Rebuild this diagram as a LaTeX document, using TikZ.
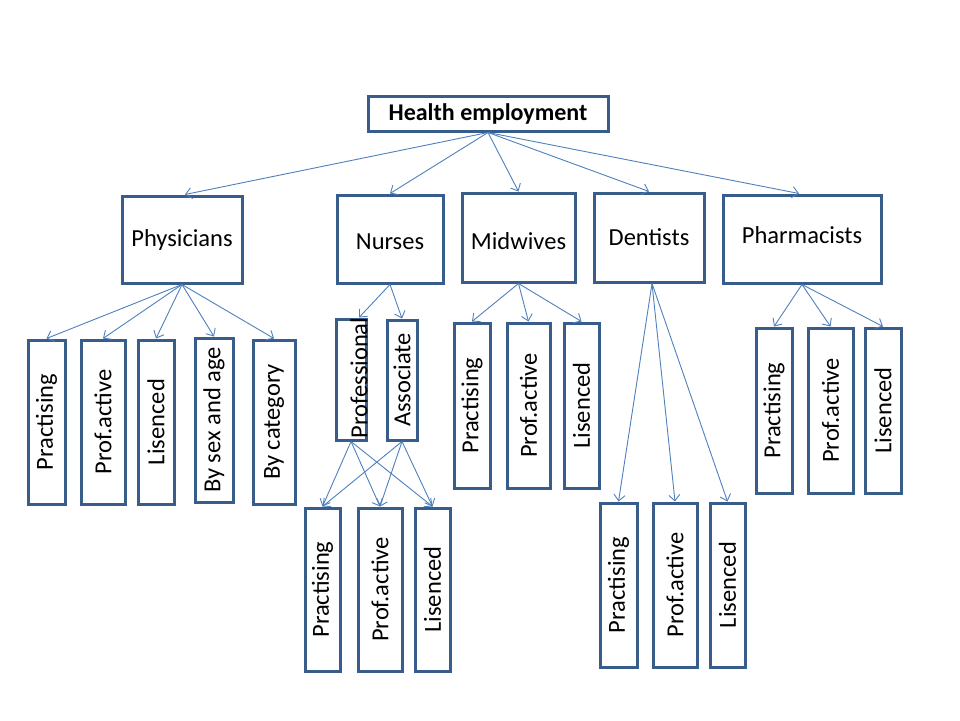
\documentclass[tikz,border=0pt]{standalone}
\usepackage{fontspec}
\setmainfont{Carlito}
\usepackage{graphicx}
\usetikzlibrary{arrows.meta,calc}
\definecolor{boxblue}{HTML}{385D8A}
\definecolor{arrblue}{HTML}{4F81BD}
\newcommand{\shiftedtext}[2]{\raisebox{#1}[\height][\depth]{#2}}
\begin{document}
\begin{tikzpicture}[x=1pt,y=-1pt,
  box/.style={draw=boxblue, line width=3pt, fill=white, inner sep=0pt, font=\fontsize{24.5}{28}\selectfont},
  top/.style={box, font=\bfseries\fontsize{24}{28}\selectfont},
  arr/.style={draw=arrblue, line width=0.9pt, -{Straight Barb[length=6pt,width=11pt]}}]
\useasboundingbox (0,0) rectangle (960,720);
\fill[white] (0,0) rectangle (960,720);
% top
\node[top, minimum width=240pt, minimum height=35pt] (health) at (488,113.5) {Health employment};
% level 1
\node[box, minimum width=120pt, minimum height=87pt] (phys) at (182,239.5) {Physicians};
\node[box, minimum width=106pt, minimum height=88pt] (nurs) at (390,239) {\shiftedtext{-3pt}{Nurses}};
\node[box, minimum width=113pt, minimum height=89pt] (midw) at (518.5,237.5) {\shiftedtext{-4pt}{Midwives}};
\node[box, minimum width=110pt, minimum height=89pt] (dent) at (649,237.5) {Dentists};
\node[box, minimum width=158pt, minimum height=88pt] (phar) at (802,239) {\shiftedtext{4pt}{Pharmacists}};
% physicians children
\node[box, minimum width=37pt, minimum height=164pt] (pp1) at (46.5,422) {\rotatebox{90}{Practising}};
\node[box, minimum width=44pt, minimum height=164pt] (pp2) at (103,422) {\rotatebox{90}{Prof.active}};
\node[box, minimum width=36pt, minimum height=164pt] (pp3) at (156,422) {\rotatebox{90}{Lisenced}};
\node[box, minimum width=38pt, minimum height=164pt] (pp4) at (214,420) {\rotatebox{90}{By sex and age}};
\node[box, minimum width=42pt, minimum height=164pt] (pp5) at (274,422) {\rotatebox{90}{By category}};
% nurses children
\node[box, minimum width=30pt, minimum height=121pt] (prof) at (351,379.5) {};
\node[font=\fontsize{24.5}{28}\selectfont, inner sep=0pt] (proftext) at (359,378) {\rotatebox{90}{Professional}};
\node[box, minimum width=30pt, minimum height=120pt] (asso) at (402,380) {\rotatebox{90}{Associate}};
% nurses grandchildren
\node[box, minimum width=35pt, minimum height=163pt] (ng1) at (322.5,589.5) {\rotatebox{90}{Practising}};
\node[box, minimum width=44pt, minimum height=163pt] (ng2) at (380,589.5) {\rotatebox{90}{Prof.active}};
\node[box, minimum width=35pt, minimum height=163pt] (ng3) at (432.5,589.5) {\rotatebox{90}{Lisenced}};
% midwives children
\node[box, minimum width=36pt, minimum height=165pt] (mw1) at (472,405.5) {\rotatebox{90}{Practising}};
\node[box, minimum width=43pt, minimum height=165pt] (mw2) at (528.5,405.5) {\rotatebox{90}{Prof.active}};
\node[box, minimum width=35pt, minimum height=165pt] (mw3) at (581.5,405.5) {\rotatebox{90}{Lisenced}};
% dentists children
\node[box, minimum width=37pt, minimum height=164pt] (dn1) at (618.5,585) {\rotatebox{90}{Practising}};
\node[box, minimum width=44pt, minimum height=164pt] (dn2) at (675,585) {\rotatebox{90}{Prof.active}};
\node[box, minimum width=35pt, minimum height=164pt] (dn3) at (727.5,585) {\rotatebox{90}{Lisenced}};
% pharmacists children
\node[box, minimum width=36pt, minimum height=165pt] (ph1) at (774,410.5) {\rotatebox{90}{Practising}};
\node[box, minimum width=45pt, minimum height=165pt] (ph2) at (830.5,410.5) {\rotatebox{90}{Prof.active}};
\node[box, minimum width=36pt, minimum height=165pt] (ph3) at (883,410.5) {\rotatebox{90}{Lisenced}};
% arrows from top
\draw[arr] (health.south) -- ($(phys.north)+(3,0)$);
\draw[arr] (health.south) -- (nurs.north);
\draw[arr] (health.south) -- (midw.north);
\draw[arr] (health.south) -- (dent.north);
\draw[arr] (health.south) -- ($(phar.north)+(-3,0)$);
% physicians
\foreach \c in {pp1,pp2,pp3,pp4,pp5} \draw[arr] (phys.south) -- (\c.north);
% nurses
\draw[arr] (nurs.south) -- ($(prof.north)+(8,0)$);
\draw[arr] (nurs.south) -- (asso.north);
\foreach \c in {ng1,ng2,ng3} {
  \draw[arr] (prof.south) -- (\c.north);
  \draw[arr] (asso.south) -- (\c.north);
}
% midwives
\foreach \c in {mw1,mw2,mw3} \draw[arr] (midw.south) -- (\c.north);
% dentists
\foreach \c in {dn1,dn2,dn3} \draw[arr] ($(dent.south)+(3,0)$) -- (\c.north);
% pharmacists
\foreach \c in {ph1,ph2,ph3} \draw[arr] (phar.south) -- (\c.north);
\end{tikzpicture}
\end{document}
